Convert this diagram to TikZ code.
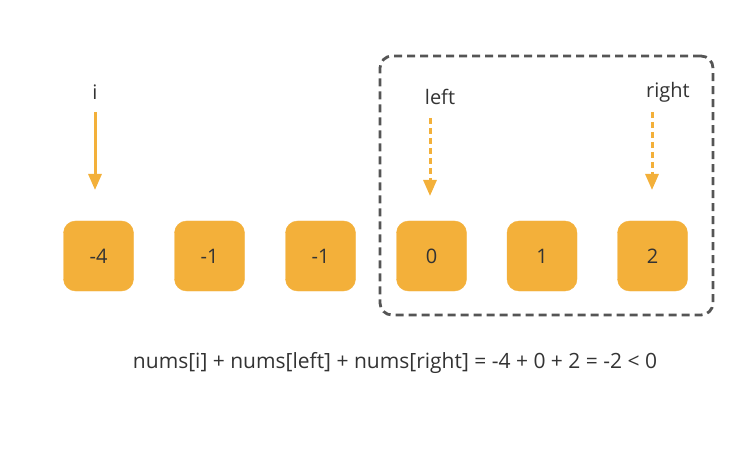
\documentclass[tikz,border=0pt]{standalone}
\usepackage{fontspec}
\setmainfont{Open Sans}
\usetikzlibrary{arrows.meta}
\definecolor{boxorange}{HTML}{F3B03A}
\definecolor{txt}{HTML}{333333}
\definecolor{dashgray}{HTML}{555555}
\tikzset{
  cell/.style={fill=boxorange, draw=boxorange, rounded corners=12pt, minimum width=70pt, minimum height=70pt, inner sep=0pt, text=txt, font=\fontsize{20}{22}\selectfont},
  lbl/.style={text=txt, font=\fontsize{20}{22}\selectfont, inner sep=0pt},
  ptr/.style={draw=boxorange, line width=3pt, -{Triangle[length=16pt,width=13pt]}},
  ptrdash/.style={ptr, dash pattern=on 6pt off 4pt},
}
\begin{document}
\begin{tikzpicture}[x=1pt,y=-1pt]
\useasboundingbox (0,0) rectangle (731,449);
\node[cell] (c1) at (98.5,256) {-4};
\node[cell] (c2) at (209.5,256) {-1};
\node[cell] (c3) at (320.5,256) {-1};
\node[cell] (c4) at (431.5,256) {0};
\node[cell] (c5) at (542,256) {1};
\node[cell] (c6) at (652.5,256) {2};
\node[draw=dashgray, line width=2.8pt, dash pattern=on 8pt off 5pt, rounded corners=12pt, minimum width=333pt, minimum height=259pt, inner sep=0pt] (win) at (546.5,185.5) {};
\node[lbl] (li) at (95,92) {i};
\node[lbl] (ll) at (440,97) {left};
\node[lbl] (lr) at (668,92) {right};
\coordinate (si) at (95,112); \coordinate (ei) at (95,190);
\coordinate (sl) at (430,118); \coordinate (el) at (430,196);
\coordinate (sr) at (652,112); \coordinate (er) at (652,190);
\draw[ptr] (si) -- (ei);
\draw[ptrdash] (sl) -- (el);
\draw[ptrdash] (sr) -- (er);
\node[lbl, font=\fontsize{21}{23}\selectfont] (eq) at (395,363) {nums[i] + nums[left] + nums[right] = -4 + 0 + 2 = -2 < 0};
\end{tikzpicture}
\end{document}
